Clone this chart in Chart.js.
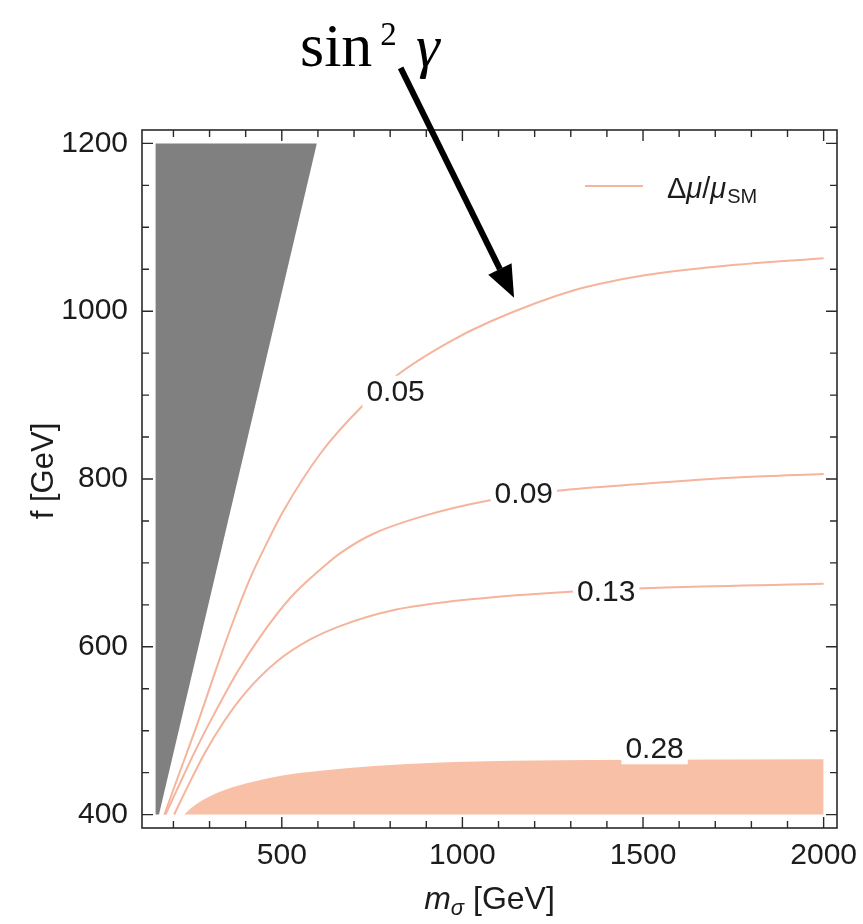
<!DOCTYPE html>
<html><head><meta charset="utf-8">
<script src="https://cdn.jsdelivr.net/npm/chart.js@4/dist/chart.umd.min.js"></script>
<style>html,body{margin:0;padding:0;background:#fff}#wrap{width:863px;height:924px;position:relative}</style>
</head><body><div id="wrap"><canvas id="c" width="863" height="924"></canvas></div>
<script>
// ---- data ----
const xTicks = [500, 1000, 1500, 2000];
const yTicks = [400, 600, 800, 1000, 1200];
const xMinor = [200,300,400,600,700,800,900,1100,1200,1300,1400,1600,1700,1800,1900];
const yMinor = [450,500,550,650,700,750,850,900,950,1050,1100,1150];

// excluded (gray) region: left edge x=150, right edge line, up to f=1200
const grayM = [150, 160, 597];
const grayF = [400, 400, 1200];
const grayTop = 1200;

// contour 0.05
const c005M = [175,211,267,318,359,390,419,451,506,608,723,820,958,1079,1309,1493,1678,1862,2000];
const c005F = [400,443,509,573,623,658,688,717,763,831,887,924,962,988,1025,1042,1052,1059,1063];
// contour 0.09
const c009M = [178,207,257,313,377,442,525,617,663,755,894,1069,1263,1493,1770,2000];
const c009F = [400,427,473,520,570,613,659,696,712,735,756,774,786,794,802,806];
// contour 0.13
const c013M = [202,239,285,340,405,488,580,663,802,1032,1309,1585,2000];
const c013F = [400,433,472,511,548,583,609,625,643,657,666,671,675];
// filled region 0.28 (upper edge, filled down to f=400)
const c028M = [230,250,280,322,400,506,600,755,940,1200,1500,2000];
const c028F = [400,408,417,426,437,447,452,458,462,464.5,465.5,466];
const bandBase = 400;

// contour labels
const labelText = ['0.05','0.09','0.13','0.28'];
const labelM = [815, 1170, 1398, 1532];
const labelF = [904, 783, 666, 479];

// arrow annotation (data coords)
const arrowFromM = 829, arrowFromF = 1290;
const arrowToM = 1143, arrowToF = 1016;

const pts = (xs, ys) => xs.map((x, i) => ({x: x, y: ys[i]}));

const LINE = 'rgb(245,180,155)';
const BAND = 'rgb(249,192,168)';
const GRAY = 'rgb(128,128,128)';
const FONT = "'Liberation Sans', Arial, sans-serif";
const TXT = '#1c1c1c';

const decor = {
  id: 'decor',
  afterDatasetsDraw(chart) {
    const ctx = chart.ctx, xs = chart.scales.x, ys = chart.scales.y;
    ctx.save();
    ctx.font = '30px ' + FONT;
    ctx.textAlign = 'center';
    ctx.textBaseline = 'middle';
    labelText.forEach((t, i) => {
      const px = xs.getPixelForValue(labelM[i]);
      const py = ys.getPixelForValue(labelF[i]);
      const w = ctx.measureText(t).width + 8;
      ctx.fillStyle = '#fff';
      ctx.fillRect(px - w / 2, py - 16, w, 32);
      ctx.fillStyle = TXT;
      ctx.fillText(t, px, py + 1);
    });
    ctx.restore();
  },
  afterDraw(chart) {
    const ctx = chart.ctx, xs = chart.scales.x, ys = chart.scales.y;
    const a = chart.chartArea;
    ctx.save();
    // frame
    ctx.strokeStyle = '#2a2a2a';
    ctx.lineWidth = 1.6;
    ctx.strokeRect(a.left, a.top, a.right - a.left, a.bottom - a.top);
    // ticks inward on all four sides
    ctx.lineWidth = 1.4;
    ctx.beginPath();
    const tickX = (v, len) => {
      const p = xs.getPixelForValue(v);
      ctx.moveTo(p, a.bottom); ctx.lineTo(p, a.bottom - len);
      ctx.moveTo(p, a.top); ctx.lineTo(p, a.top + len);
    };
    const tickY = (v, len) => {
      const p = ys.getPixelForValue(v);
      ctx.moveTo(a.left, p); ctx.lineTo(a.left + len, p);
      ctx.moveTo(a.right, p); ctx.lineTo(a.right - len, p);
    };
    xTicks.forEach(v => tickX(v, 11));
    xMinor.forEach(v => tickX(v, 7));
    yTicks.forEach(v => tickY(v, 11));
    yMinor.forEach(v => tickY(v, 7));
    ctx.stroke();

    // axis titles
    ctx.fillStyle = TXT;
    ctx.textBaseline = 'alphabetic';
    const cx = (a.left + a.right) / 2;
    ctx.font = 'italic 32px ' + FONT;
    const mW = ctx.measureText('m').width;
    ctx.font = 'italic 22px ' + FONT;
    const sW = ctx.measureText('σ').width;
    ctx.font = '32px ' + FONT;
    const rW = ctx.measureText(' [GeV]').width;
    let x0 = cx - (mW + sW + rW) / 2;
    const by = 909;
    ctx.textAlign = 'left';
    ctx.font = 'italic 32px ' + FONT; ctx.fillText('m', x0, by);
    ctx.font = 'italic 22px ' + FONT; ctx.fillText('σ', x0 + mW, by + 6);
    ctx.font = '32px ' + FONT; ctx.fillText(' [GeV]', x0 + mW + sW, by);

    ctx.save();
    ctx.translate(53, (a.top + a.bottom) / 2 - 8);
    ctx.rotate(-Math.PI / 2);
    ctx.textAlign = 'center';
    ctx.font = '31px ' + FONT;
    ctx.fillText('f [GeV]', 0, 0);
    ctx.restore();

    // legend
    ctx.strokeStyle = LINE;
    ctx.lineWidth = 2;
    ctx.beginPath(); ctx.moveTo(585, 186); ctx.lineTo(643, 186); ctx.stroke();
    ctx.fillStyle = TXT;
    ctx.textAlign = 'left';
    let lx = 667;
    const seg = (t, f, dy) => { ctx.font = f; ctx.fillText(t, lx, 198 + dy); lx += ctx.measureText(t).width; };
    seg('Δ', '29px ' + FONT, 0);
    seg('μ', 'italic 29px ' + FONT, 0);
    seg('/', '29px ' + FONT, 0);
    seg('μ', 'italic 29px ' + FONT, 0);
    lx += 1;
    seg('SM', '20px ' + FONT, 5);

    // arrow
    const p0x = xs.getPixelForValue(arrowFromM), p0y = ys.getPixelForValue(arrowFromF);
    const p1x = xs.getPixelForValue(arrowToM), p1y = ys.getPixelForValue(arrowToF);
    const ang = Math.atan2(p1y - p0y, p1x - p0x);
    const hl = 32, hw = 13;
    const bx = p1x - hl * Math.cos(ang), byy = p1y - hl * Math.sin(ang);
    ctx.strokeStyle = '#000';
    ctx.lineWidth = 6;
    ctx.lineCap = 'butt';
    ctx.beginPath(); ctx.moveTo(p0x, p0y); ctx.lineTo(bx, byy); ctx.stroke();
    ctx.fillStyle = '#000';
    ctx.beginPath();
    ctx.moveTo(p1x, p1y);
    ctx.lineTo(bx + hw * Math.sin(ang), byy - hw * Math.cos(ang));
    ctx.lineTo(bx - hw * Math.sin(ang), byy + hw * Math.cos(ang));
    ctx.closePath(); ctx.fill();

    // sin^2 gamma annotation
    ctx.fillStyle = '#000';
    ctx.textAlign = 'left';
    ctx.font = "62px 'Liberation Serif', 'DejaVu Serif', serif";
    ctx.fillText('sin', 300, 66);
    const sinW = ctx.measureText('sin').width;
    ctx.font = "33px 'Liberation Serif', 'DejaVu Serif', serif";
    ctx.fillText('2', 300 + sinW + 8, 45);
    ctx.font = "italic 60px 'Liberation Serif', 'DejaVu Serif', serif";
    ctx.fillText('γ', 416, 66);
    ctx.restore();
  }
};

new Chart(document.getElementById('c'), {
  type: 'line',
  data: {
    datasets: [
      { data: pts(grayM, grayF), borderWidth: 0, borderColor: GRAY, backgroundColor: GRAY,
        fill: {value: grayTop}, pointRadius: 0, tension: 0 },
      { data: pts(c028M, c028F), borderWidth: 0, borderColor: BAND, backgroundColor: BAND,
        fill: {value: bandBase}, pointRadius: 0, cubicInterpolationMode: 'monotone' },
      { data: pts(c005M, c005F), borderWidth: 2, borderColor: LINE, fill: false, pointRadius: 0, cubicInterpolationMode: 'monotone' },
      { data: pts(c009M, c009F), borderWidth: 2, borderColor: LINE, fill: false, pointRadius: 0, cubicInterpolationMode: 'monotone' },
      { data: pts(c013M, c013F), borderWidth: 2, borderColor: LINE, fill: false, pointRadius: 0, cubicInterpolationMode: 'monotone' }
    ]
  },
  options: {
    responsive: false,
    animation: false,
    events: [],
    layout: { padding: { top: 130, right: 26, left: 0, bottom: 0 } },
    plugins: { legend: { display: false }, tooltip: { enabled: false } },
    scales: {
      x: {
        type: 'linear', min: 113, max: 2037,
        grid: { display: false, drawTicks: false },
        border: { display: false },
        ticks: { padding: 10, color: TXT, font: { family: FONT, size: 30 }, maxRotation: 0, autoSkip: false,
                 callback: v => String(v) },
        afterBuildTicks: s => { s.ticks = xTicks.map(v => ({value: v})); },
        afterFit: s => { s.height = 96; s.paddingLeft = 0; s.paddingRight = 0; }
      },
      y: {
        type: 'linear', min: 384, max: 1216,
        grid: { display: false, drawTicks: false },
        border: { display: false },
        ticks: { padding: 14, color: TXT, font: { family: FONT, size: 30 }, autoSkip: false,
                 callback: v => String(v) },
        afterBuildTicks: s => { s.ticks = yTicks.map(v => ({value: v})); },
        afterFit: s => { s.width = 142; s.paddingTop = 0; s.paddingBottom = 0; }
      }
    }
  },
  plugins: [decor]
});
</script></body></html>
